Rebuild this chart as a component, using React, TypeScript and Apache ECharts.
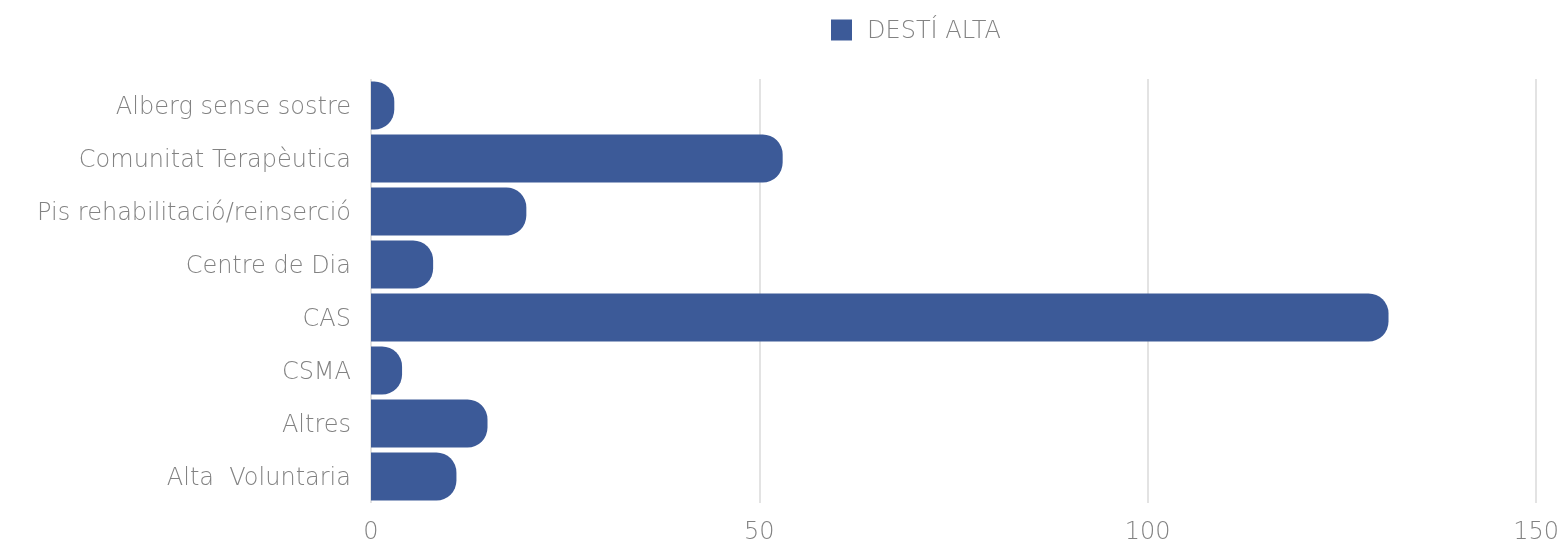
import React, { useEffect, useRef } from "react";
import * as echarts from "echarts";

const categories = [
  "Alberg sense sostre",
  "Comunitat Terapèutica",
  "Pis rehabilitació/reinserció",
  "Centre de Dia",
  "CAS",
  "CSMA",
  "Altres",
  "Alta  Voluntaria",
];
const values = [3, 53, 20, 8, 131, 4, 15, 11];
const seriesName = "DESTÍ ALTA";
const xTicks = { min: 0, max: 150, interval: 50 };

export default function App() {
  const ref = useRef<HTMLDivElement>(null);
  useEffect(() => {
    if (!ref.current) return;
    const chart = echarts.init(ref.current, null, { renderer: "svg" });
    const font = "'DejaVu Sans', sans-serif";
    const txt = { color: "#828282", fontSize: 24, fontFamily: font, fontWeight: 200 };
    chart.setOption({
      animation: false,
      legend: {
        show: true,
        left: 826,
        top: 13,
        itemWidth: 21,
        itemHeight: 21,
        itemGap: 10,
        icon: "rect",
        textStyle: { ...txt, padding: [0, 0, 0, 10] },
        data: [seriesName],
      },
      grid: { left: 371, right: 25, top: 79, bottom: 43, containLabel: false },
      xAxis: {
        type: "value",
        min: xTicks.min,
        max: xTicks.max,
        interval: xTicks.interval,
        axisLine: { show: false },
        axisTick: { show: false },
        splitLine: { show: true, lineStyle: { color: "#e3e3e3", width: 2 } },
        axisLabel: { ...txt, margin: 16 },
      },
      yAxis: {
        type: "category",
        data: categories,
        inverse: true,
        axisLine: { show: false },
        axisTick: { show: false },
        axisLabel: { ...txt, margin: 20 },
      },
      series: [
        {
          name: seriesName,
          type: "bar",
          data: values,
          barCategoryGap: "9%",
          itemStyle: { color: "#3c5a98", borderRadius: [0, 20, 20, 0] },
        },
      ],
    });
    return () => chart.dispose();
  }, []);
  return <div ref={ref} style={{ position: "fixed", left: 0, top: 0, width: 1562, height: 546 }} />;
}
